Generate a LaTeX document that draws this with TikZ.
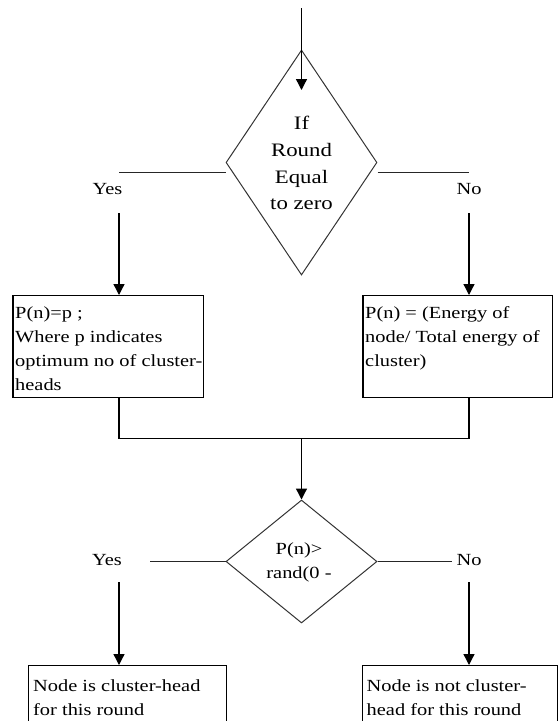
\documentclass[tikz,border=0pt]{standalone}
\usepackage{fontspec}
\setmainfont{Liberation Serif}[FakeStretch=1.2]
\usetikzlibrary{shapes.geometric,arrows.meta}
\begin{document}
\begin{tikzpicture}[x=1pt,y=-1pt,
  boxst/.style={draw=black, line width=1.4pt, rectangle, anchor=north west, inner sep=0pt},
  txt/.style={font=\fontsize{17}{24}\selectfont, align=left, anchor=north west, inner sep=0pt},
  dtxt/.style={font=\fontsize{19}{26.7}\selectfont, align=center, anchor=north, inner sep=0pt},
  lbl/.style={font=\fontsize{17}{24}\selectfont, inner sep=0pt},
  dec/.style={draw=black!80, line width=1pt, diamond, inner sep=0pt},
  flow/.style={draw=black, line width=1.3pt, -{Triangle[width=11pt,length=11pt]}},
  plain/.style={draw=black!85, line width=1.1pt}
]
\useasboundingbox (0,0) rectangle (558,721);
\clip (0,0) rectangle (558,721);

% first decision
\node[dec, minimum width=151pt, minimum height=225pt] (d1) at (301.5,162.5) {};
\node[dtxt] (q1) at (301.5,111) {\strut If\\Round\\Equal\\to zero};
\coordinate (in) at (301.5,8);
\coordinate (intip) at (301.5,90);
\draw[flow] (in) -- (intip);

% branches of first decision
\coordinate (yl1) at (118.5,172.7);
\coordinate (nl1) at (469,172.7);
\draw[plain] (d1.west |- yl1) -- (yl1);
\draw[plain] (d1.east |- nl1) -- (nl1);
\node[lbl] (yes1) at (107.5,189.5) {Yes};
\node[lbl] (no1) at (469,189) {No};

% upper boxes
\node[boxst, minimum width=190.4pt, minimum height=101.7pt] (b1) at (12.3,295) {};
\node[boxst, minimum width=189.4pt, minimum height=101.7pt] (b2) at (362.3,295) {};
\node[txt] (t1) at (15,301.5) {\strut P(n)=p ;\\Where p indicates\\optimum no of cluster-\\heads};
\node[txt] (t2) at (365,301.5) {\strut P(n) = (Energy of\\node/ Total energy of\\cluster)};

\coordinate (ya1) at (119,213);
\coordinate (na1) at (469,213);
\draw[flow] (ya1) -- (ya1 |- b1.north);
\draw[flow] (na1) -- (na1 |- b2.north);

% merge
\coordinate (m) at (301.5,438.3);
\draw[plain, line width=1.3pt, draw=black] (ya1 |- b1.south) |- (m) -| (na1 |- b2.south);

% second decision
\node[dec, minimum width=151pt, minimum height=123pt] (d2) at (301.5,561.5) {};
\node[txt, align=center, anchor=north] (q2) at (299,537) {\strut P(n)>\\rand(0 -};
\draw[flow] (m) -- (d2.north);

\coordinate (yl2) at (149.5,561.5);
\coordinate (nl2) at (452,561.5);
\draw[plain] (d2.west) -- (yl2);
\draw[plain] (d2.east) -- (nl2);
\node[lbl] (yes2) at (107,560) {Yes};
\node[lbl] (no2) at (469,560) {No};

% lower boxes
\node[boxst, minimum width=198.2pt, minimum height=90pt] (b3) at (27.8,665) {};
\node[boxst, minimum width=195pt, minimum height=90pt] (b4) at (362,665) {};
\node[txt] (t3) at (33,674) {\strut Node is cluster-head\\for this round};
\node[txt] (t4) at (366.5,674) {\strut Node is not cluster-\\head for this round};

\coordinate (ya2) at (119,582);
\coordinate (na2) at (469,582);
\draw[flow] (ya2) -- (ya2 |- b3.north);
\draw[flow] (na2) -- (na2 |- b4.north);
\end{tikzpicture}
\end{document}
